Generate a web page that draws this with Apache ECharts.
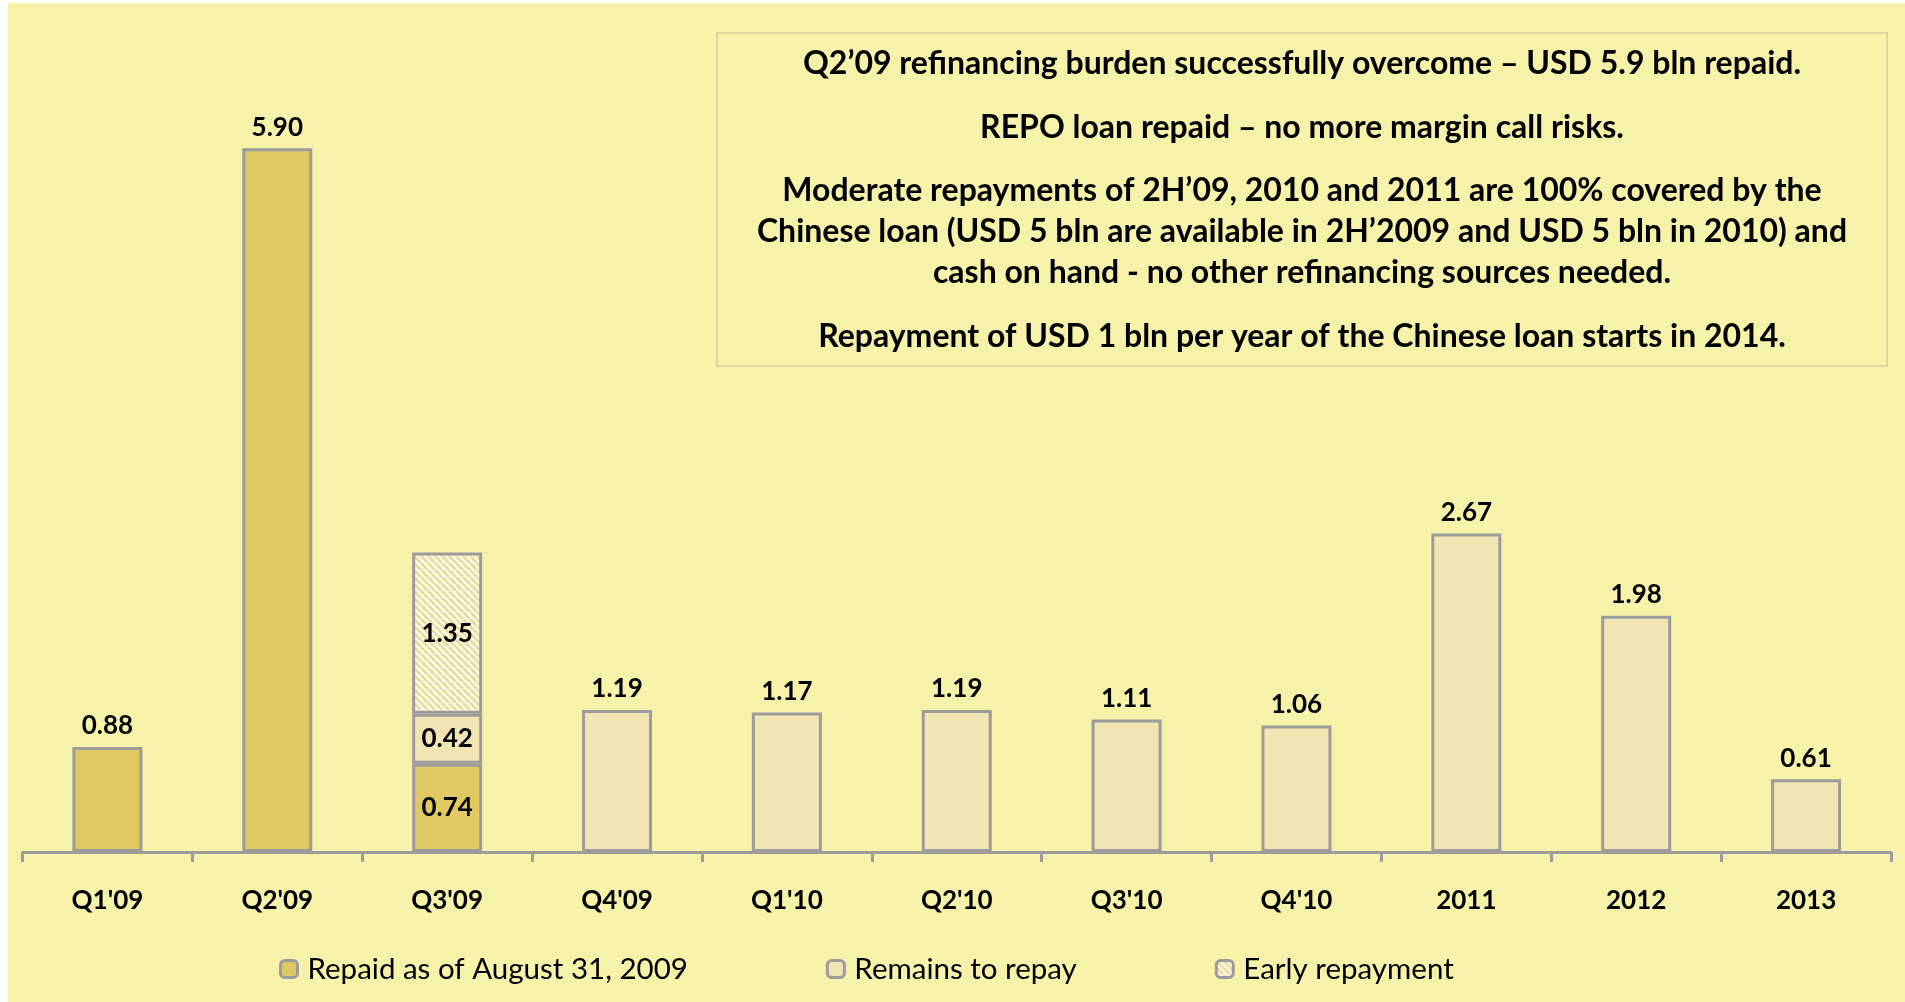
<!DOCTYPE html>
<html>
<head>
<meta charset="utf-8">
<title>Debt repayment schedule</title>
<script src="https://cdn.jsdelivr.net/npm/echarts@6/dist/echarts.min.js"></script>
<style>
  html, body { margin: 0; padding: 0; background: #ffffff; }
  #chart { position: absolute; left: 8px; top: 3px; width: 1897px; height: 999px; background: #F7F2A9; }
</style>
</head>
<body>
<div id="chart"></div>
<script>
// Periods on the horizontal axis
const categories = ["Q1'09", "Q2'09", "Q3'09", "Q4'09", "Q1'10", "Q2'10", "Q3'10", "Q4'10", "2011", "2012", "2013"];
// USD bln
const repaid      = [0.88, 5.90, 0.74, null, null, null, null, null, null, null, null];
const remains     = [null, null, 0.42, 1.19, 1.17, 1.19, 1.11, 1.06, 2.67, 1.98, 0.61];
const early       = [null, null, 1.35, null, null, null, null, null, null, null, null];
const seriesNames = ['Repaid as of August 31, 2009', 'Remains to repay', 'Early repayment'];
const notes = [
  'Q2\u201909 refinancing burden successfully overcome \u2013 USD 5.9 bln repaid.',
  'REPO loan repaid \u2013 no more margin call risks.',
  'Moderate repayments of 2H\u201909, 2010 and 2011 are 100% covered by the',
  'Chinese loan (USD 5 bln are available in 2H\u20192009 and USD 5 bln in 2010) and',
  'cash on hand - no other refinancing sources needed.',
  'Repayment of USD 1 bln per year of the Chinese loan starts in 2014.'
];

const FONT = 'Lato, "Open Sans", sans-serif';
const BORDER = '#9C9C9C';

// Diagonal hatch fill for the early repayment segment
function hatch() {
  const c = document.createElement('canvas');
  const s = 7;
  c.width = s; c.height = s;
  const g = c.getContext('2d');
  g.fillStyle = '#FFFDF0';
  g.fillRect(0, 0, s, s);
  g.strokeStyle = '#EADC9E';
  g.lineWidth = 3;
  for (const o of [-s, 0, s]) {
    g.beginPath();
    g.moveTo(o, 0);
    g.lineTo(o + s, s);
    g.stroke();
  }
  return c;
}

// A period carried by several segments gets its labels inside the bar
function isStacked(i) {
  return [repaid, remains, early].filter(a => a[i] != null).length > 1;
}
function toData(arr) {
  return arr.map((v, i) => v == null ? null : {
    value: v,
    label: { position: isStacked(i) ? 'inside' : 'top' }
  });
}

const labelStyle = {
  show: true,
  fontFamily: FONT,
  fontWeight: 'bold',
  fontSize: 26,
  color: '#000',
  distance: 8,
  formatter: p => p.value.toFixed(2)
};

function bar(name, arr, color) {
  return {
    name: name,
    type: 'bar',
    stack: 'debt',
    barWidth: 70,
    data: toData(arr),
    itemStyle: { color: color, borderColor: BORDER, borderWidth: 3 },
    label: labelStyle,
    emphasis: { disabled: true }
  };
}

const chart = echarts.init(document.getElementById('chart'));

const noteY = [61, 125, 188, 229, 270, 334];
const noteText = notes.map((t, i) => ({
  type: 'text',
  z: 11,
  style: {
    text: t,
    x: 1294,
    y: noteY[i],
    textAlign: 'center',
    textVerticalAlign: 'middle',
    font: 'bold 32px ' + FONT,
    fill: '#000'
  }
}));

chart.setOption({
  backgroundColor: '#F7F2A9',
  animation: false,
  grid: { left: 14.5, right: 14, top: 14, bottom: 150 },
  legend: {
    left: 266,
    top: 946,
    itemWidth: 17,
    itemHeight: 17,
    itemGap: 138,
    itemStyle: { borderColor: BORDER, borderWidth: 3 },
    textStyle: { fontFamily: FONT, fontSize: 29.5, color: '#000', padding: [0, 0, 0, 5] },
    data: seriesNames,
    selectedMode: false
  },
  xAxis: {
    type: 'category',
    data: categories,
    axisLine: { lineStyle: { color: BORDER, width: 3 } },
    axisTick: { show: true, length: 10, lineStyle: { color: BORDER, width: 3 } },
    axisLabel: { fontFamily: FONT, fontWeight: 'bold', fontSize: 26, color: '#000', margin: 36 }
  },
  yAxis: {
    type: 'value',
    min: 0,
    max: 7,
    show: false,
    splitLine: { show: false }
  },
  series: [
    bar(seriesNames[0], repaid, '#E0C862'),
    bar(seriesNames[1], remains, '#F1E5B3'),
    bar(seriesNames[2], early, { image: hatch(), repeat: 'repeat' })
  ],
  graphic: [
    {
      type: 'rect',
      z: 10,
      shape: { x: 709, y: 30, width: 1170, height: 333 },
      style: { fill: '#F7F2A9', stroke: '#DCD59C', lineWidth: 2 }
    },
    ...noteText
  ]
});
</script>
</body>
</html>
